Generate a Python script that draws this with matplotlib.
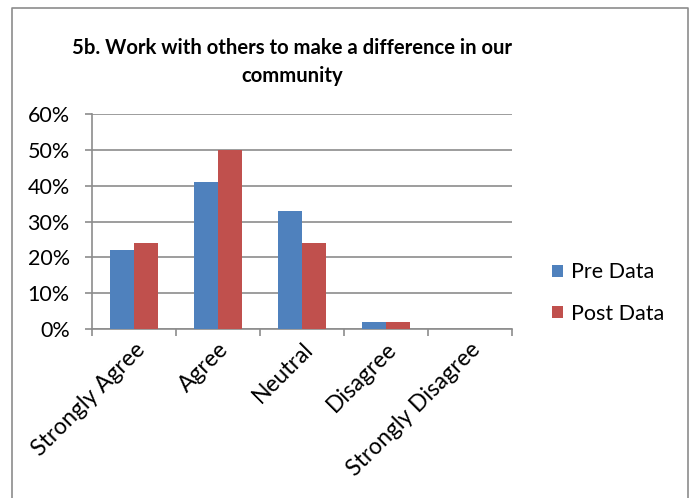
import matplotlib
matplotlib.use('Agg')
import matplotlib.pyplot as plt
import matplotlib.ticker as mticker
import numpy as np

# ---- data ----
categories = ['Strongly Agree', 'Agree', 'Neutral', 'Disagree', 'Strongly Disagree']
pre_data = [22, 41, 33, 2, 0]
post_data = [24, 50, 24, 2, 0]
series_names = ['Pre Data', 'Post Data']
title = '5b. Work with others to make a difference in our\ncommunity'

plt.rcParams['font.family'] = ['Lato', 'DejaVu Sans']
blue, red, grid_c = '#4F81BD', '#C0504D', '#8C8C8C'
fs = 15.5

fig = plt.figure(figsize=(6.95, 4.98), dpi=100)
ax = fig.add_axes([92/695, 1-329/498, 420/695, 215/498])

x = np.arange(len(categories))
w = 0.286
ax.bar(x - w/2, pre_data, w, color=blue, label=series_names[0], zorder=3)
ax.bar(x + w/2, post_data, w, color=red, label=series_names[1], zorder=3)

ax.set_xlim(-0.5, len(categories) - 0.5)
ax.set_ylim(0, 60)
ax.yaxis.set_major_locator(mticker.MultipleLocator(10))
ax.yaxis.set_major_formatter(mticker.FuncFormatter(lambda v, _: f'{v:.0f}%'))
ax.grid(axis='y', color=grid_c, linewidth=1.2, zorder=0)

# x ticks at category boundaries, labels at centers
ax.set_xticks(np.arange(-0.5, len(categories)), minor=False)
ax.set_xticklabels([])
ax.set_xticks(x, minor=True)
ax.set_xticklabels(categories, minor=True, rotation=45, ha='right',
                   rotation_mode='anchor', fontsize=16.5)
ax.tick_params(axis='x', which='minor', length=0, pad=7)
ax.tick_params(axis='x', which='major', length=5, color=grid_c, width=1.2)
ax.tick_params(axis='y', length=5, color=grid_c, width=1.2, labelsize=fs, pad=11)

for s in ['top', 'right']:
    ax.spines[s].set_visible(False)
for s in ['left', 'bottom']:
    ax.spines[s].set_color(grid_c)
    ax.spines[s].set_linewidth(1.2)

fig.text(292/695, 1-62/498, title, ha='center', va='center', fontsize=14.6,
         fontweight='bold', linespacing=1.45)

ax.legend(loc='center left', bbox_to_anchor=(533/695, 1-293/498),
          bbox_transform=fig.transFigure, frameon=False, fontsize=fs,
          handlelength=0.48, handleheight=0.48, handletextpad=0.4, labelspacing=1.0)

# outer chart border (left, top, right)
fig.add_artist(plt.Line2D([12/695, 12/695, 688/695, 688/695], [0, 1-8/498, 1-8/498, 0],
                          transform=fig.transFigure, color='#8C8C8C', linewidth=1.2))

fig.savefig('out.png', dpi=100)
